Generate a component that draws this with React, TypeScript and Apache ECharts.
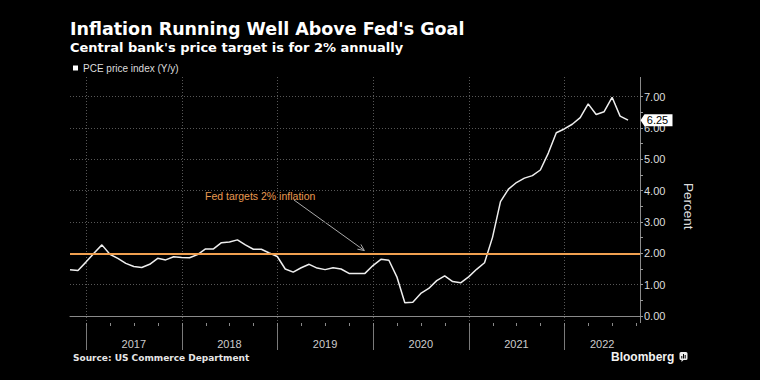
import React, { useEffect, useRef } from "react";
import * as echarts from "echarts";

const TITLE = "Inflation Running Well Above Fed's Goal";
const SUBTITLE = "Central bank's price target is for 2% annually";
const SERIES_NAME = "PCE price index (Y/y)";
const SOURCE = "Source: US Commerce Department";
const BRAND = "Bloomberg";
const ANNOTATION = "Fed targets 2% inflation";
const Y_NAME = "Percent";
const TARGET = 2;

// Monthly readings, Oct 2016 .. Aug 2022 (plotted at month end)
const FIRST_YEAR = 2016;
const FIRST_MONTH = 10;
const pceValues = [
  1.48, 1.45, 1.72, 2.0, 2.27, 1.97, 1.84, 1.68, 1.58, 1.55,
  1.65, 1.84, 1.79, 1.89, 1.87, 1.86, 1.96, 2.14, 2.14, 2.34,
  2.36, 2.43, 2.27, 2.13, 2.13, 2.01, 1.9, 1.5, 1.4, 1.54,
  1.65, 1.53, 1.48, 1.54, 1.5, 1.36, 1.36, 1.36, 1.61, 1.81,
  1.78, 1.25, 0.42, 0.44, 0.72, 0.88, 1.13, 1.28, 1.1, 1.06,
  1.25, 1.49, 1.7, 2.51, 3.65, 4.05, 4.26, 4.4, 4.48, 4.66,
  5.2, 5.85, 5.97, 6.12, 6.33, 6.77, 6.43, 6.52, 6.98, 6.38, 6.25,
];
const yearLabels = [2017, 2018, 2019, 2020, 2021, 2022];
const Y_MIN = 0;
const Y_MAX = 7;
const Y_STEP = 1;

// months since 1 Jan 2016; month-end of month m of year y
const monthEnd = (y: number, m: number) => (y - 2016) * 12 + m;
const yearStart = (y: number) => (y - 2016) * 12;
const months = pceValues.map((_, i) => {
  const total = FIRST_MONTH - 1 + i;
  return { y: FIRST_YEAR + Math.floor(total / 12), m: (total % 12) + 1 };
});
const X_MIN = monthEnd(FIRST_YEAR, FIRST_MONTH);
const X_MAX = 81.5;

const GRID_LEFT = 70;
const GRID_RIGHT = 120;
const GRID_TOP = 96.7;
const GRID_BOTTOM = 64;
const AXIS_DROP = 7;
const TOP_EXT = 19.7;

const FONT = "'Liberation Sans', Arial, sans-serif";
const BOLD_FONT = "'DejaVu Sans', sans-serif";
const GRID_COLOR = "#575757";

export default function App() {
  const ref = useRef<HTMLDivElement>(null);
  useEffect(() => {
    document.body.style.margin = "0";
    document.body.style.background = "#000";
    const chart = echarts.init(ref.current!, undefined, { renderer: "svg" });
    const lineData = months.map((d, i) => [monthEnd(d.y, d.m), pceValues[i]]);
    const last = pceValues[pceValues.length - 1];
    const boundaries = yearLabels.map((y) => [yearStart(y), 0]);
    const quarterTicks: number[][] = [];
    for (let q = yearStart(yearLabels[0]); q <= X_MAX; q += 3) quarterTicks.push([q, 0]);
    const labelPos = yearLabels.map((y) => {
      const s = Math.max(X_MIN, yearStart(y));
      const e = Math.min(X_MAX, yearStart(y) + 12);
      return [(s + e) / 2, 0, y];
    });
    const plotRight = 760 - GRID_RIGHT;
    const plotBottom = 380 - GRID_BOTTOM;

    chart.setOption({
      animation: false,
      backgroundColor: "#000",
      textStyle: { fontFamily: FONT },
      title: {
        text: TITLE,
        subtext: SUBTITLE,
        left: 70,
        top: 20,
        padding: 0,
        itemGap: 3,
        textStyle: { color: "#fff", fontSize: 17.5, fontWeight: "bold", fontFamily: BOLD_FONT },
        subtextStyle: { color: "#fff", fontSize: 13, fontWeight: "bold", fontFamily: BOLD_FONT },
      },
      legend: {
        data: [SERIES_NAME],
        left: 73,
        top: 63,
        padding: 0,
        icon: "rect",
        itemWidth: 5,
        itemHeight: 5,
        selectedMode: false,
        itemStyle: { color: "#fff" },
        textStyle: { color: "#ddd", fontSize: 10, fontFamily: FONT },
      },
      grid: { left: GRID_LEFT, right: GRID_RIGHT, top: GRID_TOP, bottom: GRID_BOTTOM },
      xAxis: {
        type: "value",
        min: X_MIN,
        max: X_MAX,
        offset: AXIS_DROP,
        axisLine: { show: true, lineStyle: { color: "#8a8a8a", width: 1 } },
        axisTick: { show: false },
        axisLabel: { show: false },
        splitLine: { show: false },
      },
      yAxis: {
        type: "value",
        position: "right",
        min: Y_MIN,
        max: Y_MAX,
        interval: Y_STEP,
        name: Y_NAME,
        nameLocation: "middle",
        nameRotate: -90,
        nameGap: 41,
        nameTextStyle: { color: "#ddd", fontSize: 13.5, fontFamily: FONT },
        axisLine: { show: false },
        axisTick: { show: true, length: 3, lineStyle: { color: "#999" } },
        minorTick: { show: true, splitNumber: 2, length: 3, lineStyle: { color: "#999" } },
        axisLabel: {
          color: "#ddd",
          fontSize: 11,
          margin: 4,
          fontFamily: FONT,
          formatter: (v: number) => v.toFixed(2),
        },
        splitLine: { show: true, lineStyle: { color: GRID_COLOR, type: [1, 2], width: 1 } },
      },
      graphic: [
        {
          type: "line",
          silent: true,
          shape: { x1: plotRight + 0.5, y1: GRID_TOP - TOP_EXT, x2: plotRight + 0.5, y2: plotBottom + AXIS_DROP },
          style: { stroke: "#8a8a8a", lineWidth: 1 },
        },
        {
          type: "text",
          x: 205,
          y: 196,
          silent: true,
          style: { text: ANNOTATION, fill: "#e89a50", fontSize: 10.5, fontFamily: FONT, verticalAlign: "middle" },
        },
        {
          type: "line",
          silent: true,
          shape: { x1: 294, y1: 200, x2: 364.3, y2: 250.5 },
          style: { stroke: "#aaa", lineWidth: 1 },
        },
        {
          type: "polyline",
          silent: true,
          shape: { points: [[360.9, 244.4], [364.3, 250.5], [357.4, 249.2]] },
          style: { stroke: "#aaa", lineWidth: 1, fill: null },
        },
        {
          type: "text",
          x: 73,
          y: 358,
          silent: true,
          style: { text: SOURCE, fill: "#e6e6e6", fontSize: 9, fontWeight: "bold", fontFamily: BOLD_FONT, verticalAlign: "middle" },
        },
        {
          type: "text",
          x: 611,
          y: 357,
          silent: true,
          style: { text: BRAND, fill: "#f2f2f2", fontSize: 12, fontWeight: "bold", fontFamily: FONT, verticalAlign: "middle" },
        },
        {
          type: "group",
          x: 679.5,
          y: 352,
          silent: true,
          children: [
            { type: "rect", shape: { x: 0, y: 0, width: 8, height: 8, r: 1.5 }, style: { fill: "#eee" } },
            { type: "polygon", shape: { points: [[2, 8], [4, 8], [2, 10]] }, style: { fill: "#eee" } },
            { type: "rect", shape: { x: 1.8, y: 4, width: 1, height: 2.5 }, style: { fill: "#000" } },
            { type: "rect", shape: { x: 3.5, y: 2, width: 1, height: 4.5 }, style: { fill: "#000" } },
            { type: "rect", shape: { x: 5.2, y: 3, width: 1, height: 3.5 }, style: { fill: "#000" } },
          ],
        },
      ],
      series: [
        {
          name: SERIES_NAME,
          type: "line",
          data: lineData,
          showSymbol: false,
          symbol: "none",
          z: 3,
          itemStyle: { color: "#eeeeee" },
          lineStyle: { color: "#eeeeee", width: 1.5 },
          markLine: {
            silent: true,
            symbol: ["none", "none"],
            label: { show: false },
            lineStyle: { color: "#f0a050", width: 2, type: "solid" },
            data: [{ yAxis: TARGET }],
            z: 4,
          },
          markPoint: {
            silent: true,
            symbol: "path://M0,6L4,0L32,0L32,12L4,12Z",
            symbolSize: [32, 12],
            symbolKeepAspect: false,
            symbolOffset: [16.5, 0],
            itemStyle: { color: "#fff" },
            z: 10,
            label: {
              show: true,
              position: "inside",
              offset: [1, 0],
              color: "#000",
              fontSize: 11,
              fontFamily: FONT,
              formatter: () => last.toFixed(2),
            },
            data: [{ coord: [X_MAX, last], value: last }],
          },
        },
        {
          name: "yearLines",
          type: "custom",
          silent: true,
          clip: false,
          data: boundaries,
          renderItem: (params: any, api: any) => {
            const p = api.coord([api.value(0), Y_MIN]);
            const cs = params.coordSys;
            const x = Math.round(p[0]) + 0.5;
            const bottom = cs.y + cs.height + AXIS_DROP;
            return {
              type: "group",
              children: [
                {
                  type: "line",
                  shape: { x1: x, y1: cs.y - TOP_EXT, x2: x, y2: bottom },
                  style: { stroke: GRID_COLOR, lineWidth: 1, lineDash: [1, 2] },
                },
                {
                  type: "line",
                  shape: { x1: x, y1: bottom, x2: x, y2: bottom + 27 },
                  style: { stroke: "#7a7a7a", lineWidth: 1 },
                },
              ],
            };
          },
        },
        {
          name: "quarterTicks",
          type: "custom",
          silent: true,
          clip: false,
          data: quarterTicks,
          renderItem: (params: any, api: any) => {
            const p = api.coord([api.value(0), Y_MIN]);
            const cs = params.coordSys;
            const x = Math.round(p[0]) + 0.5;
            const bottom = cs.y + cs.height + AXIS_DROP;
            return {
              type: "line",
              shape: { x1: x, y1: bottom, x2: x, y2: bottom + 3 },
              style: { stroke: "#8a8a8a", lineWidth: 1 },
            };
          },
        },
        {
          name: "yearLabels",
          type: "custom",
          silent: true,
          clip: false,
          data: labelPos,
          renderItem: (params: any, api: any) => {
            const p = api.coord([api.value(0), Y_MIN]);
            const cs = params.coordSys;
            return {
              type: "text",
              x: p[0],
              y: cs.y + cs.height + 28,
              style: {
                text: String(api.value(2)),
                fill: "#cccccc",
                fontSize: 11,
                fontFamily: FONT,
                align: "center",
                verticalAlign: "middle",
              },
            };
          },
        },
      ],
    });
    return () => chart.dispose();
  }, []);
  return (
    <div
      ref={ref}
      style={{ position: "fixed", left: 0, top: 0, width: 760, height: 380, background: "#000" }}
    />
  );
}
